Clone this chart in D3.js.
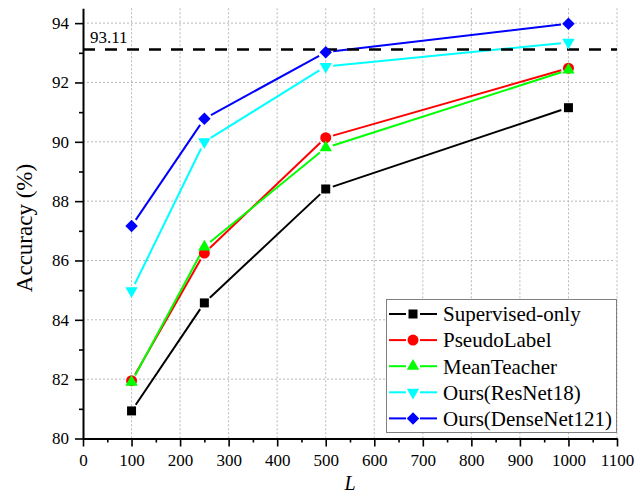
<!DOCTYPE html>
<html>
<head>
<meta charset="utf-8">
<script src="https://d3js.org/d3.v7.min.js"></script>
<style>
  body { margin: 0; background: #fff; }
  svg, svg text { font-family: "Liberation Serif", "Times New Roman", serif; }
</style>
</head>
<body>
<div id="chart"></div>
<script>
(function() {

const w = 636;
const h = 501;

// data
const labeled = [100, 250, 500, 1000];
const supervisedOnly = [80.93, 84.57, 88.41, 91.15];
const pseudoLabel = [81.95, 86.25, 90.14, 92.48];
const meanTeacher = [81.9, 86.46, 89.8, 92.42];
const oursResNet18 = [84.98, 90.0, 92.54, 93.35];
const oursDenseNet121 = [87.16, 90.78, 93.02, 93.98];
const baseline = 93.11;

const xTicks = [0, 100, 200, 300, 400, 500, 600, 700, 800, 900, 1000, 1100];
const yTicks = [80, 82, 84, 86, 88, 90, 92, 94];

const series = [
    { name: "Supervised-only", values: supervisedOnly, colour: "#000000", shape: "square" },
    { name: "PseudoLabel", values: pseudoLabel, colour: "#ff0000", shape: "circle" },
    { name: "MeanTeacher", values: meanTeacher, colour: "#00ff00", shape: "up" },
    { name: "Ours(ResNet18)", values: oursResNet18, colour: "#00ffff", shape: "down" },
    { name: "Ours(DenseNet121)", values: oursDenseNet121, colour: "#0000ff", shape: "diamond" }
];

const x = d3.scaleLinear().domain([0, 1100]).range([83, 617]);
const y = d3.scaleLinear().domain([80, 94.5]).range([438.5, 8.3]);

const svg = d3.select("#chart")
    .append("svg")
    .attr("width", w)
    .attr("height", h);

// grid
svg.append("g")
    .selectAll("line")
    .data(xTicks.slice(1))
    .enter()
    .append("line")
    .attr("x1", d => x(d)).attr("x2", d => x(d))
    .attr("y1", y(94.5)).attr("y2", y(80))
    .attr("stroke", "#b8b8b8")
    .attr("stroke-dasharray", "2,2");

svg.append("g")
    .selectAll("line")
    .data(yTicks.slice(1))
    .enter()
    .append("line")
    .attr("x1", x(0)).attr("x2", 615)
    .attr("y1", d => y(d)).attr("y2", d => y(d))
    .attr("stroke", "#b8b8b8")
    .attr("stroke-dasharray", "2,2");

function symbolPath(shape) {
    if (shape == "square") return d3.symbol(d3.symbolSquare, 81)();
    if (shape == "circle") return d3.symbol(d3.symbolCircle, 95)();
    if (shape == "up" || shape == "down") return d3.symbol(d3.symbolTriangle, 66)();
    return d3.symbol(d3.symbolSquare, 78)();
}

function symbolRotate(shape) {
    if (shape == "down") return 180;
    if (shape == "diamond") return 45;
    return 0;
}

// line segments, stopped a little short of each marker
const gap = 7.5;
function segments(s) {
    const pts = labeled.map((d, i) => [x(d), y(s.values[i])]);
    const segs = [];
    for (let i = 0; i < pts.length - 1; i++) {
        const a = pts[i], b = pts[i + 1];
        const dx = b[0] - a[0], dy = b[1] - a[1];
        const len = Math.sqrt(dx * dx + dy * dy);
        const ux = dx / len, uy = dy / len;
        segs.push([a[0] + ux * gap, a[1] + uy * gap, b[0] - ux * gap, b[1] - uy * gap]);
    }
    return segs;
}

series.forEach(function(s) {
    svg.append("g")
        .selectAll("line")
        .data(segments(s))
        .enter()
        .append("line")
        .attr("x1", d => d[0]).attr("y1", d => d[1])
        .attr("x2", d => d[2]).attr("y2", d => d[3])
        .attr("stroke", s.colour)
        .attr("stroke-width", 2);
});

// reference line
svg.append("line")
    .attr("x1", x(0)).attr("x2", 617)
    .attr("y1", y(baseline)).attr("y2", y(baseline))
    .attr("stroke", "#000")
    .attr("stroke-width", 2.6)
    .attr("stroke-dasharray", "12,10");

svg.append("text")
    .attr("x", 90)
    .attr("y", 43)
    .attr("font-size", 17)
    .text(baseline.toFixed(2));

series.forEach(function(s) {
    svg.append("g")
        .selectAll("path")
        .data(labeled)
        .enter()
        .append("path")
        .attr("d", symbolPath(s.shape))
        .attr("transform", (d, i) => "translate(" + x(d) + "," + y(s.values[i]) + ") rotate(" + symbolRotate(s.shape) + ")")
        .attr("fill", s.colour);
});

// axes
svg.append("g")
    .attr("transform", "translate(0," + y(80) + ")")
    .call(d3.axisBottom(x).tickValues(xTicks).tickFormat(d3.format("d")).tickSize(8).tickPadding(7).tickSizeOuter(0));

svg.append("g")
    .attr("transform", "translate(0," + y(80) + ")")
    .call(d3.axisBottom(x).tickValues(d3.range(50, 1100, 100)).tickSize(4).tickFormat("").tickSizeOuter(0))
    .select(".domain").remove();

svg.append("g")
    .attr("transform", "translate(" + x(0) + ",0)")
    .call(d3.axisLeft(y).tickValues(yTicks).tickFormat(d3.format("d")).tickSize(8).tickPadding(6).tickSizeOuter(0));

svg.append("g")
    .attr("transform", "translate(" + x(0) + ",0)")
    .call(d3.axisLeft(y).tickValues([81, 83, 85, 87, 89, 91, 93]).tickSize(4).tickFormat("").tickSizeOuter(0))
    .select(".domain").remove();

svg.selectAll("g[font-family]").attr("font-family", null).attr("font-size", null);
svg.selectAll(".domain").attr("stroke-width", 2);
svg.selectAll(".tick line").attr("stroke-width", 1.6);
svg.selectAll(".tick text")
    .attr("font-size", 17)
    .attr("fill", "#000");

svg.append("text")
    .attr("transform", "translate(32,228) rotate(-90)")
    .attr("text-anchor", "middle")
    .attr("font-size", 23)
    .text("Accuracy (%)");

svg.append("text")
    .attr("x", 350)
    .attr("y", 490)
    .attr("text-anchor", "middle")
    .attr("font-size", 20)
    .attr("font-style", "italic")
    .text("L");

// legend
const legend = svg.append("g");

legend.append("rect")
    .attr("x", 386.5)
    .attr("y", 299.5)
    .attr("width", 230)
    .attr("height", 133)
    .attr("fill", "#fff")
    .attr("stroke", "#808080")
    .attr("stroke-width", 1);

const rows = legend.selectAll("g.row")
    .data(series)
    .enter()
    .append("g")
    .attr("class", "row")
    .attr("transform", (d, i) => "translate(413," + (314 + i * 26.1) + ")");

rows.append("line")
    .attr("x1", -24).attr("x2", -7)
    .attr("stroke", d => d.colour)
    .attr("stroke-width", 2);

rows.append("line")
    .attr("x1", 7).attr("x2", 24)
    .attr("stroke", d => d.colour)
    .attr("stroke-width", 2);

rows.append("path")
    .attr("d", d => symbolPath(d.shape))
    .attr("transform", d => "rotate(" + symbolRotate(d.shape) + ")")
    .attr("fill", d => d.colour);

rows.append("text")
    .attr("x", 30)
    .attr("dy", "0.35em")
    .attr("font-size", 21)
    .text(d => d.name);

})();
</script>
</body>
</html>
